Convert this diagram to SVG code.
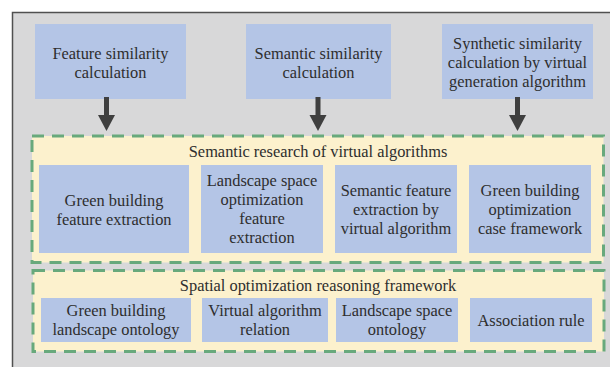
<svg xmlns="http://www.w3.org/2000/svg" width="610" height="367" viewBox="0 0 610 367">
<defs>
<style>
.bg{fill:#d8d8d9;stroke:#505050;stroke-width:1.5}
.box{fill:#b4c5e6}
.grp{fill:#fcf1cd;stroke:#68a97c;stroke-width:3;stroke-dasharray:12 8}
text{font-size:16.4px;fill:#2e2e2e;text-anchor:middle;dominant-baseline:central}
.arr{fill:#3f3f3f}
</style>
</defs>
<rect width="610" height="367" fill="#ffffff"/>
<rect class="bg" x="12.5" y="12.5" width="640" height="400"/>
<g font-family="Liberation Serif, Times New Roman, DejaVu Serif, serif">
<g id="n1"><rect class="box" x="35" y="24" width="151" height="75"/><text x="110.5" y="53">Feature similarity</text><text x="110.5" y="72">calculation</text></g>
<g id="n2"><rect class="box" x="246" y="24" width="145" height="75"/><text x="318.5" y="53">Semantic similarity</text><text x="318.5" y="72">calculation</text></g>
<g id="n3"><rect class="box" x="442" y="24" width="151" height="75"/><text x="517.5" y="43">Synthetic similarity</text><text x="517.5" y="62">calculation by virtual</text><text x="517.5" y="81">generation algorithm</text></g>
<g id="g1"><rect class="grp" x="32" y="136" width="571.5" height="126.5"/><text x="318" y="151">Semantic research of virtual algorithms</text></g>
<g id="n4"><rect class="box" x="39" y="165" width="150" height="88"/><text x="114" y="200">Green building</text><text x="114" y="219">feature extraction</text></g>
<g id="n5"><rect class="box" x="201" y="165" width="122" height="88"/><text x="262" y="180.5">Landscape space</text><text x="262" y="199.5">optimization</text><text x="262" y="218.5">feature</text><text x="262" y="237.5">extraction</text></g>
<g id="n6"><rect class="box" x="335" y="165" width="122" height="88"/><text x="396" y="190">Semantic feature</text><text x="396" y="209">extraction by</text><text x="396" y="228">virtual algorithm</text></g>
<g id="n7"><rect class="box" x="469" y="165" width="122" height="88"/><text x="530" y="190">Green building</text><text x="530" y="209">optimization</text><text x="530" y="228">case framework</text></g>
<g id="g2"><rect class="grp" x="33" y="270.5" width="571" height="81"/><text x="318" y="285">Spatial optimization reasoning framework</text></g>
<g id="n8"><rect class="box" x="41" y="298" width="150" height="44"/><text x="116" y="310.5">Green building</text><text x="116" y="329.5">landscape ontology</text></g>
<g id="n9"><rect class="box" x="202" y="298" width="126" height="44"/><text x="265" y="310.5">Virtual algorithm</text><text x="265" y="329.5">relation</text></g>
<g id="n10"><rect class="box" x="336" y="298" width="122" height="44"/><text x="397" y="310.5">Landscape space</text><text x="397" y="329.5">ontology</text></g>
<g id="n11"><rect class="box" x="470" y="298" width="122" height="44"/><text x="531" y="320">Association rule</text></g>
</g>
<g id="connectors">
<path class="arr" d="M104,97 H109 V115 H115 L106.5,131 L98,115 H104 Z"/>
<path class="arr" d="M315.5,97 H320.5 V115 H326.5 L318,131 L309.5,115 H315.5 Z"/>
<path class="arr" d="M515,97 H520 V115 H526 L517.5,131 L509,115 H515 Z"/>
</g>
</svg>
